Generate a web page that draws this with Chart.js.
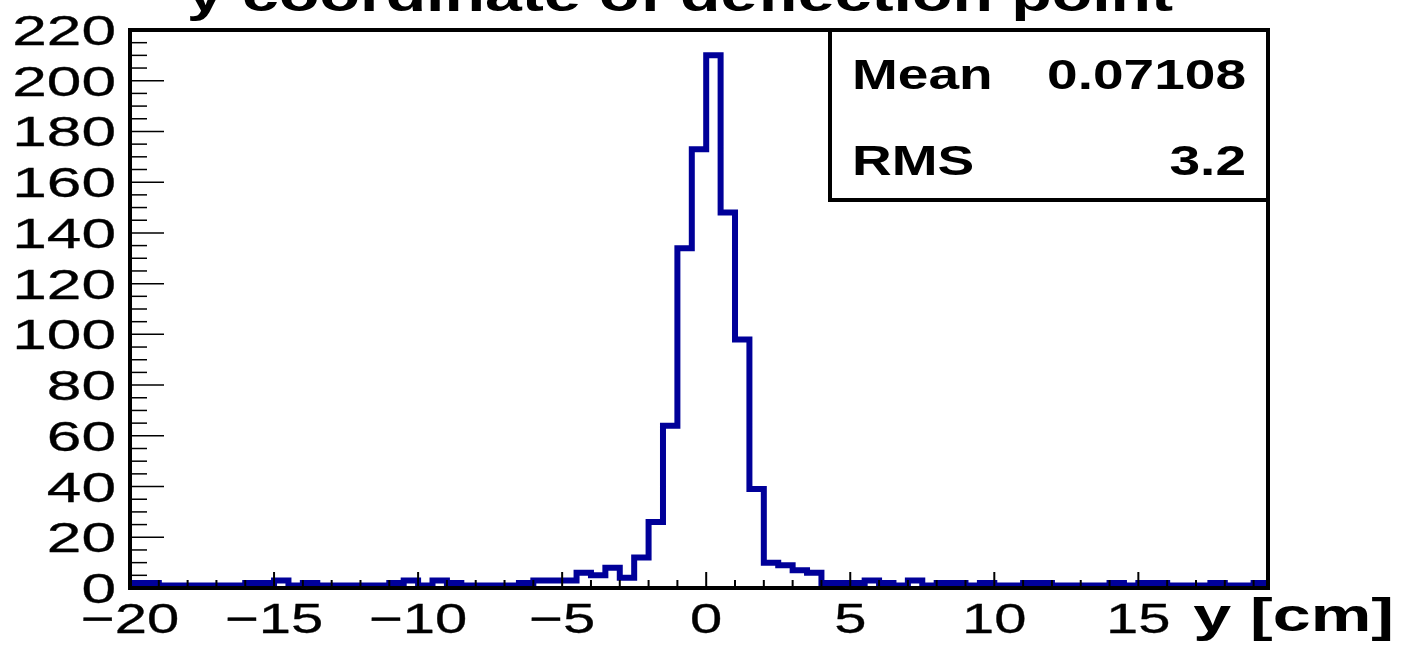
<!DOCTYPE html>
<html>
<head>
<meta charset="utf-8">
<script src="https://cdn.jsdelivr.net/npm/chart.js@4/dist/chart.umd.min.js"></script>
<style>
  html, body { margin: 0; padding: 0; background: #fff; }
  canvas { display: block; }
</style>
</head>
<body>
<canvas id="hist" width="1404" height="646"></canvas>
<script>
// ---------- data ----------
const BIN_LOW = -20;
const BIN_WIDTH = 0.5;
const X_MIN = -20, X_MAX = 19.5;
const Y_MIN = 0, Y_MAX = 220;

// counts per bin, first bin starts at -20, 0.5 wide
const counts = [
  2, 2, 1, 1, 1, 1, 1, 1, 2, 2,      // -20 .. -15.5
  3, 1, 2, 1, 1, 1, 1, 1, 2, 3,      // -15 .. -10.5
  1, 3, 2, 1, 1, 1, 1, 2, 3, 3,      // -10 .. -5.5
  3, 6, 5, 8, 4, 12, 26, 64, 134, 173, // -5 .. -0.5
  210, 148, 98, 39, 10, 9, 7, 6, 2, 2, // 0 .. 4.5
  2, 3, 2, 1, 3, 1, 2, 2, 1, 2,      // 5 .. 9.5
  1, 1, 2, 2, 1, 1, 1, 1, 2, 1,      // 10 .. 14.5
  2, 2, 1, 1, 1, 2, 1, 1, 2,         // 15 .. 19
];

const xTickLabels = [-20, -15, -10, -5, 0, 5, 10, 15];
const yTickLabels = [0, 20, 40, 60, 80, 100, 120, 140, 160, 180, 200, 220];

const titleText = 'y coordinate of deflection point';
const axisTitle = 'y [cm]';
const statNames = ['Mean', 'RMS'];
const statValues = ['0.07108', '3.2'];

// ---------- look ----------
const HIST_COLOR = '#000099';
const FONT = '"Liberation Sans", Arial, Helvetica, sans-serif';
const STRETCH = 1.38; // the picture is wider than tall, text is stretched

// step points: left edge of every bin + right edge of the last one
const points = counts.map((c, i) => ({ x: BIN_LOW + i * BIN_WIDTH, y: c }));
points.push({ x: BIN_LOW + counts.length * BIN_WIDTH, y: counts[counts.length - 1] });

function wideText(ctx, text, x, y, align, font, sx, heavy) {
  ctx.save();
  ctx.font = font;
  ctx.textAlign = align;
  ctx.textBaseline = 'alphabetic';
  ctx.fillStyle = '#000';
  ctx.strokeStyle = '#000';
  ctx.translate(x, y);
  ctx.scale(sx, 1);
  ctx.fillText(text, 0, 0);
  if (heavy) {
    ctx.lineWidth = heavy;
    ctx.strokeText(text, 0, 0);
  }
  ctx.restore();
}

function pretty(v) {
  return v < 0 ? '\u2212' + Math.abs(v) : String(v);
}

// ---------- ROOT-style frame, ticks, labels, stats box ----------
const rootFrame = {
  id: 'rootFrame',
  afterDatasetsDraw(chart) {
    const { ctx, chartArea: a, scales } = chart;
    const sx = scales.x, sy = scales.y;

    ctx.save();
    ctx.strokeStyle = '#000';
    ctx.lineCap = 'butt';

    // x ticks, inside the frame: minor every 1, major every 5
    ctx.lineWidth = 2;
    for (let v = X_MIN; v <= X_MAX; v += 1) {
      const px = sx.getPixelForValue(v);
      const len = (v % 5 === 0) ? 16 : 8;
      ctx.beginPath();
      ctx.moveTo(px, a.bottom);
      ctx.lineTo(px, a.bottom - len);
      ctx.stroke();
    }

    // y ticks: minor every 5, major every 20
    ctx.lineWidth = 1.5;
    for (let v = Y_MIN; v <= Y_MAX; v += 5) {
      const py = sy.getPixelForValue(v);
      const len = (v % 20 === 0) ? 34 : 17;
      ctx.beginPath();
      ctx.moveTo(a.left, py);
      ctx.lineTo(a.left + len, py);
      ctx.stroke();
    }

    // frame
    ctx.lineWidth = 4;
    ctx.strokeRect(a.left, a.top, a.right - a.left, a.bottom - a.top);
    ctx.restore();

    const labelFont = '42px ' + FONT;
    xTickLabels.forEach((v) => {
      wideText(ctx, pretty(v), sx.getPixelForValue(v), 633, 'center', labelFont, STRETCH, 0.3);
    });
    yTickLabels.forEach((v) => {
      wideText(ctx, pretty(v), 116, sy.getPixelForValue(v) + 15, 'right', labelFont, 1.48, 0.3);
    });

    // axis title + histogram title (cut at the top)
    wideText(ctx, axisTitle, 1394, 631, 'right', 'bold 47px ' + FONT, 1.45);
    wideText(ctx, titleText, 680, 11, 'center', 'bold 48px ' + FONT, STRETCH);

    // stats box
    const box = { l: 830, t: a.top, r: a.right, b: 200 };
    ctx.save();
    ctx.fillStyle = '#fff';
    ctx.fillRect(box.l, box.t, box.r - box.l, box.b - box.t);
    ctx.strokeStyle = '#000';
    ctx.lineWidth = 4;
    ctx.strokeRect(box.l, box.t, box.r - box.l, box.b - box.t);
    ctx.restore();

    const statFont = 'bold 42px ' + FONT;
    const rowY = [89, 175];
    statNames.forEach((name, i) => {
      wideText(ctx, name, 852, rowY[i], 'left', statFont, 1.31);
      wideText(ctx, statValues[i], 1246, rowY[i], 'right', statFont, 1.31);
    });
  },
};

new Chart(document.getElementById('hist'), {
  type: 'line',
  data: {
    datasets: [{
      label: 'y',
      data: points,
      stepped: 'before',
      borderColor: HIST_COLOR,
      borderWidth: 6,
      borderJoinStyle: 'miter',
      borderCapStyle: 'butt',
      pointRadius: 0,
      fill: false,
      tension: 0,
    }],
  },
  options: {
    responsive: false,
    animation: false,
    events: [],
    layout: { padding: { left: 130, right: 136, top: 30, bottom: 58 } },
    plugins: { legend: { display: false }, tooltip: { enabled: false }, title: { display: false } },
    scales: {
      x: { type: 'linear', min: X_MIN, max: X_MAX, display: false },
      y: { type: 'linear', min: Y_MIN, max: Y_MAX, display: false },
    },
  },
  plugins: [rootFrame],
});
</script>
</body>
</html>
